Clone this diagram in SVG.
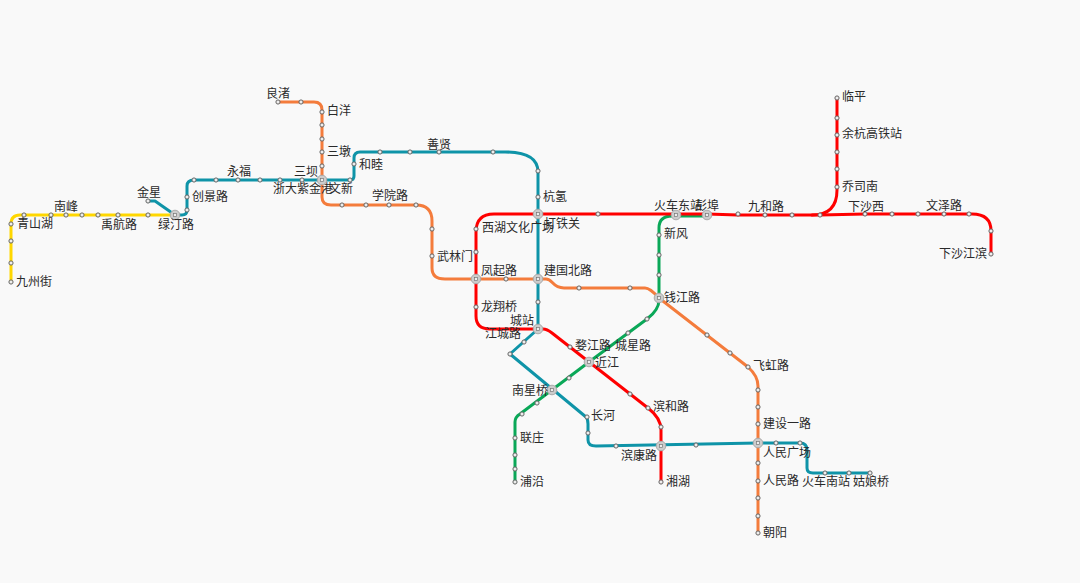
<svg xmlns="http://www.w3.org/2000/svg" width="1080" height="583" viewBox="0 0 1080 583">
<style>
text{font-family:"Noto Sans CJK SC","Noto Sans",sans-serif;font-size:12px;fill:#2a2a2a;transform:translateY(1px)}
.l{fill:none;stroke-width:3;stroke-linecap:round;stroke-linejoin:round}
.s{fill:#eee;stroke:#666;stroke-width:1}
.x{fill:#ccc;stroke:#aaa;stroke-width:1}
.y{fill:#eee;stroke:#777;stroke-width:.7}
</style>
<defs>
<circle id="st" class="s" r="2.1"/>
<g id="ic"><circle class="x" r="4.8"/><rect class="y" x="-1.6" y="-1.6" width="3.2" height="3.2"/></g>
</defs>
<rect width="1080" height="583" fill="#f9f9f9"/>
<g id="connectors">
<path class="l" stroke="#ffd700" d="M11 282V224Q11 215 20 215H175"/>
<path class="l" stroke="#f47c3c" d="M278 102H314Q322 102 322 110V197Q322 205 331 205H416Q432 205 432 221V268Q432 279 445 279H546C553 279 552 288 564 288H645Q650 288 659 298L748 367Q758 376 758 386V533"/>
<path class="l" stroke="#0f94a8" d="M148 201H155L175 215H182Q187 215 187 210V186Q187 180 194 180H350Q354 180 354 176V158Q354 152 360 152H505Q538 152 538 172V329L510 354L586 417Q588 419 588 424V440Q588 446 596 446L758 443H800Q807 443 807 450V468Q807 473 813 473H870"/>
<path class="l" stroke="#0aa858" d="M515 482V422Q515 417 520 414L589 362L647 319Q659 310 659 300V228Q659 216 672 216H707"/>
<path class="l" stroke="#f00" d="M991 254V231Q991 214 972 214H865L820 215H738L707 214H494Q476 214 476 232V316Q476 329 490 329H543Q547 329 552 333L648 408Q661 418 661 430V482"/>
<path class="l" stroke="#f00" d="M837 98V190Q837 215 812 215"/>
</g>
<g id="line-yellow-stations">
<g id="s-jiuzhoujie"><use href="#st" x="11" y="282"/><text x="16" y="285">九州街</text></g>
<g id="s-y2"><use href="#st" x="11" y="263"/></g>
<g id="s-y3"><use href="#st" x="11" y="241"/></g>
<g id="s-qingshanhu"><use href="#st" x="11" y="224"/><text x="17" y="227">青山湖</text></g>
<g id="s-y5"><use href="#st" x="24" y="215"/></g>
<g id="s-nanfeng"><use href="#st" x="51" y="215"/><text x="54" y="210">南峰</text></g>
<g id="s-y7"><use href="#st" x="66" y="215"/></g>
<g id="s-y8"><use href="#st" x="82" y="215"/></g>
<g id="s-y9"><use href="#st" x="98" y="215"/></g>
<g id="s-yuhanglu"><use href="#st" x="118" y="215"/><text x="101" y="228">禹航路</text></g>
<g id="s-y11"><use href="#st" x="148" y="215"/></g>
</g>
<g id="line-teal-stations">
<g id="s-jinxing"><use href="#st" x="148" y="201"/><text x="137" y="196">金星</text></g>
<g id="s-t2"><use href="#st" x="187" y="210"/></g>
<g id="s-chuangjinglu"><use href="#st" x="187" y="197"/><text x="192" y="200">创景路</text></g>
<g id="s-t4"><use href="#st" x="194" y="180"/></g>
<g id="s-t5"><use href="#st" x="216" y="180"/></g>
<g id="s-yongfu"><use href="#st" x="238" y="180"/><text x="227" y="175">永福</text></g>
<g id="s-t7"><use href="#st" x="260" y="180"/></g>
<g id="s-zheda"><use href="#st" x="280" y="180"/><text x="273" y="192">浙大紫金港</text></g>
<g id="s-sanba"><use href="#st" x="302" y="180"/><text x="294" y="175">三坝</text></g>
<g id="s-wenxin"><use href="#st" x="350" y="180"/><text x="329" y="192">文新</text></g>
<g id="s-hemu"><use href="#st" x="354" y="164"/><text x="359" y="168">和睦</text></g>
<g id="s-t12"><use href="#st" x="380" y="152"/></g>
<g id="s-t13"><use href="#st" x="410" y="152"/></g>
<g id="s-shanxian"><use href="#st" x="439" y="152"/><text x="427" y="148">善贤</text></g>
<g id="s-t15"><use href="#st" x="493" y="152"/></g>
<g id="s-t16"><use href="#st" x="538" y="171"/></g>
<g id="s-hangqing"><use href="#st" x="538" y="197"/><text x="543" y="200">杭氢</text></g>
<g id="s-t18"><use href="#st" x="538" y="302"/></g>
<g id="s-t19"><use href="#st" x="524" y="342"/></g>
<g id="s-t20"><use href="#st" x="510" y="354"/></g>
<g id="s-changhe"><use href="#st" x="587" y="417"/><text x="591" y="419">长河</text></g>
<g id="s-t22"><use href="#st" x="588" y="433"/></g>
<g id="s-t23"><use href="#st" x="616" y="446"/></g>
<g id="s-t24"><use href="#st" x="696" y="445"/></g>
<g id="s-t25"><use href="#st" x="776" y="443"/></g>
<g id="s-t26"><use href="#st" x="800" y="443"/></g>
<g id="s-t27"><use href="#st" x="825" y="473"/></g>
<g id="s-huochenanzhan"><use href="#st" x="849" y="473"/><text x="802" y="485">火车南站</text></g>
<g id="s-guniangqiao"><use href="#st" x="870" y="473"/><text x="853" y="485">姑娘桥</text></g>
</g>
<g id="line-orange-stations">
<g id="s-liangzhu"><use href="#st" x="278" y="102"/><text x="266" y="97">良渚</text></g>
<g id="s-o2"><use href="#st" x="301" y="102"/></g>
<g id="s-baiyang"><use href="#st" x="322" y="112"/><text x="327" y="114">白洋</text></g>
<g id="s-o4"><use href="#st" x="322" y="125"/></g>
<g id="s-o5"><use href="#st" x="322" y="139"/></g>
<g id="s-sandun"><use href="#st" x="322" y="152"/><text x="327" y="155">三墩</text></g>
<g id="s-o7"><use href="#st" x="322" y="166"/></g>
<g id="s-o8"><use href="#st" x="342" y="205"/></g>
<g id="s-o9"><use href="#st" x="366" y="205"/></g>
<g id="s-xueyuanlu"><use href="#st" x="389" y="205"/><text x="372" y="199">学院路</text></g>
<g id="s-o11"><use href="#st" x="416" y="205"/></g>
<g id="s-o12"><use href="#st" x="432" y="229"/></g>
<g id="s-wulinmen"><use href="#st" x="432" y="256"/><text x="437" y="260">武林门</text></g>
<g id="s-o14"><use href="#st" x="506" y="279"/></g>
<g id="s-o15"><use href="#st" x="579" y="288"/></g>
<g id="s-o16"><use href="#st" x="630" y="288"/></g>
<g id="s-o17"><use href="#st" x="707" y="335"/></g>
<g id="s-o18"><use href="#st" x="730" y="353"/></g>
<g id="s-feihonglu"><use href="#st" x="748" y="367"/><text x="753" y="369">飞虹路</text></g>
<g id="s-o20"><use href="#st" x="758" y="390"/></g>
<g id="s-o21"><use href="#st" x="758" y="407"/></g>
<g id="s-jianshelu"><use href="#st" x="758" y="424"/><text x="763" y="427">建设一路</text></g>
<g id="s-o23"><use href="#st" x="758" y="463"/></g>
<g id="s-renminlu"><use href="#st" x="758" y="481"/><text x="763" y="484">人民路</text></g>
<g id="s-o25"><use href="#st" x="758" y="498"/></g>
<g id="s-o26"><use href="#st" x="758" y="516"/></g>
<g id="s-chaoyang"><use href="#st" x="758" y="533"/><text x="763" y="536">朝阳</text></g>
</g>
<g id="line-green-stations">
<g id="s-puyan"><use href="#st" x="515" y="482"/><text x="520" y="485">浦沿</text></g>
<g id="s-g2"><use href="#st" x="515" y="469"/></g>
<g id="s-g3"><use href="#st" x="515" y="455"/></g>
<g id="s-lianzhuang"><use href="#st" x="515" y="438"/><text x="520" y="441">联庄</text></g>
<g id="s-g5"><use href="#st" x="522" y="414"/></g>
<g id="s-g6"><use href="#st" x="537" y="403"/></g>
<g id="s-g7"><use href="#st" x="569" y="378"/></g>
<g id="s-chengxinglu"><use href="#st" x="628" y="333"/><text x="615" y="349">城星路</text></g>
<g id="s-g9"><use href="#st" x="647" y="319"/></g>
<g id="s-g10"><use href="#st" x="659" y="275"/></g>
<g id="s-g11"><use href="#st" x="659" y="255"/></g>
<g id="s-xinfeng"><use href="#st" x="659" y="235"/><text x="664" y="237">新风</text></g>
</g>
<g id="line-red-stations">
<g id="s-xiashajiangbin"><use href="#st" x="991" y="254"/><text x="939" y="257">下沙江滨</text></g>
<g id="s-r2"><use href="#st" x="991" y="231"/></g>
<g id="s-r3"><use href="#st" x="969" y="214"/></g>
<g id="s-wenzelu"><use href="#st" x="944" y="214"/><text x="926" y="209">文泽路</text></g>
<g id="s-r5"><use href="#st" x="918" y="214"/></g>
<g id="s-r6"><use href="#st" x="892" y="214"/></g>
<g id="s-xiashaxi"><use href="#st" x="865" y="214"/><text x="848" y="210">下沙西</text></g>
<g id="s-r8"><use href="#st" x="820" y="215"/></g>
<g id="s-r9"><use href="#st" x="792" y="215"/></g>
<g id="s-jiuhelu"><use href="#st" x="765" y="215"/><text x="748" y="210">九和路</text></g>
<g id="s-r11"><use href="#st" x="738" y="214"/></g>
<g id="s-r12"><use href="#st" x="598" y="214"/></g>
<g id="s-xihu"><use href="#st" x="476" y="229"/><text x="482" y="231">西湖文化广场</text></g>
<g id="s-r14"><use href="#st" x="476" y="252"/></g>
<g id="s-longxiangqiao"><use href="#st" x="476" y="307"/><text x="481" y="310">龙翔桥</text></g>
<g id="s-wujianglu"><use href="#st" x="570" y="347"/><text x="575" y="349">婺江路</text></g>
<g id="s-r17"><use href="#st" x="630" y="394"/></g>
<g id="s-binhelu"><use href="#st" x="648" y="408"/><text x="653" y="410">滨和路</text></g>
<g id="s-r19"><use href="#st" x="661" y="427"/></g>
<g id="s-xianghu"><use href="#st" x="661" y="482"/><text x="666" y="485">湘湖</text></g>
<g id="s-linping"><use href="#st" x="837" y="98"/><text x="842" y="100">临平</text></g>
<g id="s-b2"><use href="#st" x="837" y="118"/></g>
<g id="s-yuhang"><use href="#st" x="837" y="135"/><text x="842" y="137">余杭高铁站</text></g>
<g id="s-b4"><use href="#st" x="837" y="152"/></g>
<g id="s-b5"><use href="#st" x="837" y="169"/></g>
<g id="s-qiaosinan"><use href="#st" x="837" y="187"/><text x="842" y="190">乔司南</text></g>
</g>
<g id="interchanges">
<g id="s-lvtinglu"><use href="#ic" x="175" y="215"/><text x="158" y="228">绿汀路</text></g>
<g id="s-i-sandun"><use href="#ic" x="322" y="180"/></g>
<g id="s-dategong"><use href="#ic" x="538" y="214"/><text x="544" y="227">打铁关</text></g>
<g id="s-fengqilu"><use href="#ic" x="476" y="279"/><text x="481" y="274">凤起路</text></g>
<g id="s-jianguobeilu"><use href="#ic" x="538" y="279"/><text x="544" y="274">建国北路</text></g>
<g id="s-chengzhan"><use href="#ic" x="538" y="329"/><text x="510" y="324">城站</text><text x="485" y="337">江城路</text></g>
<g id="s-jinjiang"><use href="#ic" x="589" y="362"/><text x="595" y="366">近江</text></g>
<g id="s-nanxingqiao"><use href="#ic" x="552" y="390"/><text x="512" y="394">南星桥</text></g>
<g id="s-binkanglu"><use href="#ic" x="661" y="446"/><text x="621" y="459">滨康路</text></g>
<g id="s-qianjianglu"><use href="#ic" x="659" y="298"/><text x="664" y="301">钱江路</text></g>
<g id="s-renminguangchang"><use href="#ic" x="758" y="443"/><text x="763" y="456">人民广场</text></g>
<g id="s-huochedongzhan"><use href="#ic" x="676" y="215"/><text x="654" y="209">火车东站</text></g>
<g id="s-pengbu"><use href="#ic" x="707" y="215"/><text x="695" y="209">彭埠</text></g>
</g>
</svg>
